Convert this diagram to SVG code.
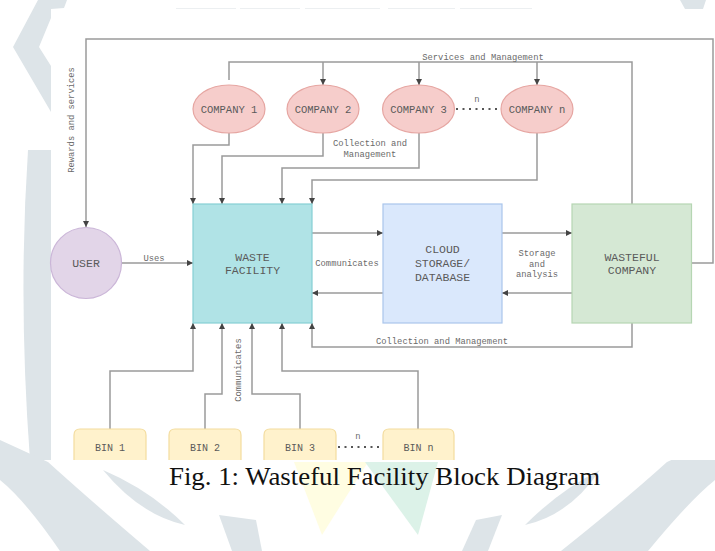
<svg xmlns="http://www.w3.org/2000/svg" width="715" height="551" viewBox="0 0 715 551">
<defs>
<marker id="arr" markerUnits="userSpaceOnUse" markerWidth="7" markerHeight="7" refX="6" refY="3.5" orient="auto">
<path d="M0,0.5 L6,3.5 L0,6.5 Z" fill="#444"/>
</marker>
<style>
.wm{fill:#dde4e8}
.ln{fill:none;stroke:#9a9a9a;stroke-width:1.5}
.ar{marker-end:url(#arr)}
.dot{fill:none;stroke:#555;stroke-width:2;stroke-dasharray:2 4.5}
.nt{font-family:"Liberation Mono","Courier New",monospace;fill:#5a5a5a;text-anchor:middle}
.lb{font-family:"Liberation Mono","Courier New",monospace;fill:#6a6a6a;font-size:8.8px;text-anchor:middle}
.comp{fill:#f6cdcb;stroke:#e6a6a2;stroke-width:1.2}
.bin{fill:#fff2cc;stroke:#f3dc9e;stroke-width:1.2}
</style>
</defs>
<rect width="715" height="551" fill="#ffffff"/>
<g id="watermark">
<polygon class="wm" points="38,0 67,0 64,8 51,9 51,18 39,47 51,66 51,112 13,47"/>
<path class="wm" d="M28,150 Q18,300 30,460 L51,460 L51,150 Z"/>
<path class="wm" d="M0,440 L48,462 Q90,500 150,551 L60,551 Q25,500 0,480 Z"/>
<path class="wm" d="M103,470 Q150,490 185,525 Q140,515 103,470 Z"/>
<path class="wm" d="M219,515 L256,520 L262,551 L232,551 Z"/>
<path class="wm" d="M715,440 L667,462 Q625,500 561,551 L648,551 Q690,500 715,480 Z"/>
<path class="wm" d="M600,470 Q560,490 525,525 Q570,515 600,470 Z"/>
<path class="wm" d="M476,520 L502,515 L488,551 L462,551 Z"/>
<polygon class="wm" points="680,0 706,0 703,9 685,9"/>
<polygon fill="#fffde2" points="294,462 368,462 322,535"/>
<polygon fill="#dcf2e8" points="365,462 438,462 418,535"/>
<rect x="51" y="9" width="664" height="451" fill="#ffffff"/>
<path d="M176,8.5 H236 M240,8.5 H300 M305,8.5 H380 M388,8.5 H455 M460,8.5 H532" stroke="#eceff1" stroke-width="1"/>
</g>
<g id="connectors">
<polyline class="ln ar" points="692,263 713,263 713,39 86,39 86,227"/>
<polyline class="ln" points="632,204 632,62 229,62 229,80"/>
<line class="ln ar" x1="323" y1="62" x2="323" y2="85"/>
<line class="ln ar" x1="419" y1="62" x2="419" y2="85"/>
<line class="ln ar" x1="537" y1="62" x2="537" y2="85"/>
<polyline class="ln ar" points="229,133 229,145 193,145 193,204"/>
<polyline class="ln ar" points="323,133 323,156 222,156 222,204"/>
<polyline class="ln ar" points="419,133 419,168 282,168 282,204"/>
<polyline class="ln ar" points="537,133 537,180 312,180 312,204"/>
<line class="ln ar" x1="122" y1="263" x2="193" y2="263"/>
<line class="ln ar" x1="312" y1="233" x2="383" y2="233"/>
<line class="ln ar" x1="383" y1="293" x2="312" y2="293"/>
<line class="ln ar" x1="502" y1="233" x2="572" y2="233"/>
<line class="ln ar" x1="572" y1="293" x2="502" y2="293"/>
<polyline class="ln ar" points="632,323 632,347 312,347 312,323"/>
<polyline class="ln ar" points="110,429 110,371 193,371 193,323"/>
<polyline class="ln ar" points="205,429 205,394 222,394 222,323"/>
<polyline class="ln ar" points="300,429 300,394 252,394 252,323"/>
<polyline class="ln ar" points="418,429 418,371 282,371 282,323"/>
<line class="dot" x1="456" y1="109" x2="501" y2="109"/>
<line class="dot" x1="338" y1="447" x2="383" y2="447"/>
<text class="lb" x="483" y="59.5">Services and Management</text>
<text class="lb" x="74" y="120" transform="rotate(-90 74 120)">Rewards and services</text>
<text class="lb" x="370" y="146">Collection and</text>
<text class="lb" x="370" y="157">Management</text>
<text class="lb" x="154" y="261">Uses</text>
<text class="lb" x="347" y="266">Communicates</text>
<text class="lb" x="537" y="256">Storage</text>
<text class="lb" x="537" y="266.5">and</text>
<text class="lb" x="537" y="277">analysis</text>
<text class="lb" x="442" y="344">Collection and Management</text>
<text class="lb" x="241" y="370" transform="rotate(-90 241 370)">Communicates</text>
<text class="lb" x="477" y="102">n</text>
<text class="lb" x="358" y="439">n</text>
</g>
<g id="company1"><ellipse class="comp" cx="229" cy="109" rx="36" ry="24"/><text class="nt" x="229" y="112.5" font-size="10.5">COMPANY 1</text></g>
<g id="company2"><ellipse class="comp" cx="323" cy="109" rx="36" ry="24"/><text class="nt" x="323" y="112.5" font-size="10.5">COMPANY 2</text></g>
<g id="company3"><ellipse class="comp" cx="418.5" cy="109" rx="36" ry="24"/><text class="nt" x="418.5" y="112.5" font-size="10.5">COMPANY 3</text></g>
<g id="companyn"><ellipse class="comp" cx="537" cy="109" rx="36" ry="24"/><text class="nt" x="537" y="112.5" font-size="10.5">COMPANY n</text></g>
<g id="user"><circle cx="86" cy="263" r="35.5" fill="#e2d5e8" stroke="#cbb6d8" stroke-width="1.2"/><text class="nt" x="86" y="267" font-size="11.5">USER</text></g>
<g id="waste-facility"><rect x="193" y="204" width="119" height="119" fill="#b0e3e6" stroke="#86cfd4" stroke-width="1.2"/><text class="nt" x="252.5" y="260.5" font-size="11.5">WASTE</text><text class="nt" x="252.5" y="274" font-size="11.5">FACILITY</text></g>
<g id="cloud"><rect x="383" y="204" width="119" height="119" fill="#dae8fc" stroke="#aac5ec" stroke-width="1.2"/><text class="nt" x="442.5" y="253" font-size="11.5">CLOUD</text><text class="nt" x="442.5" y="267" font-size="11.5">STORAGE/</text><text class="nt" x="442.5" y="281" font-size="11.5">DATABASE</text></g>
<g id="wasteful-company"><rect x="572" y="204" width="119.5" height="119" fill="#d5e8d4" stroke="#b6d6b3" stroke-width="1.2"/><text class="nt" x="632" y="260.5" font-size="11.5">WASTEFUL</text><text class="nt" x="632" y="274" font-size="11.5">COMPANY</text></g>
<g id="bin1"><path class="bin" d="M74,460 V435 Q74,429 80,429 H140 Q146,429 146,435 V460"/><text class="nt" x="110" y="450.5" font-size="10">BIN 1</text></g>
<g id="bin2"><path class="bin" d="M169,460 V435 Q169,429 175,429 H235 Q241,429 241,435 V460"/><text class="nt" x="205" y="450.5" font-size="10">BIN 2</text></g>
<g id="bin3"><path class="bin" d="M264,460 V435 Q264,429 270,429 H330 Q336,429 336,435 V460"/><text class="nt" x="300" y="450.5" font-size="10">BIN 3</text></g>
<g id="binn"><path class="bin" d="M383,460 V435 Q383,429 389,429 H448 Q454,429 454,435 V460"/><text class="nt" x="418.5" y="450.5" font-size="10">BIN n</text></g>
<text x="384.5" y="485" font-family="'Liberation Serif','Times New Roman',serif" font-size="25" fill="#111" text-anchor="middle" textLength="431" lengthAdjust="spacingAndGlyphs">Fig. 1: Wasteful Facility Block Diagram</text>
</svg>
